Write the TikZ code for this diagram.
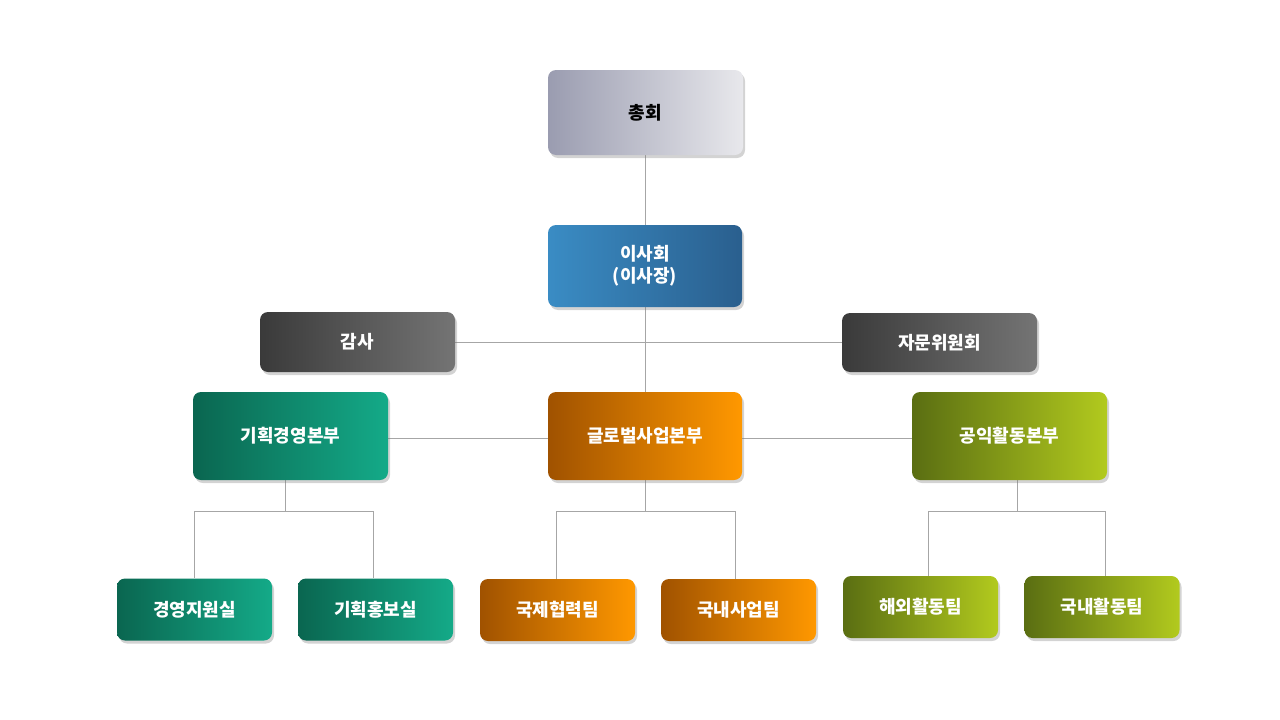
\documentclass[tikz,border=0pt]{standalone}
\usepackage{fontspec}
\newfontfamily\kr{Noto Sans CJK KR}
\usetikzlibrary{shadows}
\definecolor{greyA}{HTML}{9A9CB0}\definecolor{greyB}{HTML}{E8E8EC}
\definecolor{blueA}{HTML}{3A8CC4}\definecolor{blueB}{HTML}{2A5F8E}
\definecolor{darkA}{HTML}{3A3A3A}\definecolor{darkB}{HTML}{747474}
\definecolor{tealA}{HTML}{0A6650}\definecolor{tealB}{HTML}{14AA88}
\definecolor{orgA}{HTML}{A05200}\definecolor{orgB}{HTML}{FF9800}
\definecolor{oliA}{HTML}{5A6E12}\definecolor{oliB}{HTML}{B2CA1E}
\tikzset{
  unit/.style={rounded corners=8pt, minimum width=195pt, text=white,
    font=\kr\fontsize{18}{22}\selectfont\bfseries, align=center,
    drop shadow={shadow xshift=2pt, shadow yshift=-3pt, opacity=0.35}},
  team/.style={unit, minimum width=155pt, minimum height=62pt},
  link/.style={draw=gray!70, line width=0.8pt}
}
\begin{document}
\begin{tikzpicture}[x=1pt,y=-1pt]
  \useasboundingbox (0,0) rectangle (1280,720);
  % links
  \coordinate (gm) at (285,511);
  \coordinate (om) at (645,511);
  \coordinate (lm) at (1017,511);
  \draw[link] (645,155) -- (645,392);
  \draw[link] (455,342) -- (842,342);
  \draw[link] (388,438) -- (912,438);
  \draw[link] (285,480) -- (gm) (194,578) |- (373,511) -- (373,578);
  \draw[link] (645,480) -- (om) (556,579) |- (735,511) -- (735,579);
  \draw[link] (1017,480) -- (lm) (928,576) |- (1105,511) -- (1105,576);
  % boxes
  \node[unit, minimum height=85pt, left color=greyA, right color=greyB, text=black] (assembly) at (645.5,112.5) {총회};
  \node[unit, minimum width=194pt, minimum height=82pt, left color=blueA, right color=blueB] (board) at (645,266) {이사회\\(이사장)};
  \node[unit, minimum height=60pt, left color=darkA, right color=darkB] (audit) at (357.5,342) {감사};
  \node[unit, minimum height=59pt, left color=darkA, right color=darkB] (advisory) at (939.5,342.5) {자문위원회};
  \node[unit, minimum height=88pt, left color=tealA, right color=tealB] (plan) at (290.5,436) {기획경영본부};
  \node[unit, minimum width=194pt, minimum height=88pt, left color=orgA, right color=orgB] (global) at (645,436) {글로벌사업본부};
  \node[unit, minimum height=88pt, left color=oliA, right color=oliB] (public) at (1009.5,436) {공익활동본부};
  \node[team, left color=tealA, right color=tealB] (support) at (194.5,609.5) {경영지원실};
  \node[team, left color=tealA, right color=tealB] (pr) at (375.5,609.5) {기획홍보실};
  \node[team, left color=orgA, right color=orgB] (intl) at (557.5,610) {국제협력팀};
  \node[team, left color=orgA, right color=orgB] (domestic) at (738.5,610) {국내사업팀};
  \node[team, left color=oliA, right color=oliB] (abroad) at (920.5,607) {해외활동팀};
  \node[team, left color=oliA, right color=oliB] (local) at (1102,607) {국내활동팀};
\end{tikzpicture}
\end{document}
